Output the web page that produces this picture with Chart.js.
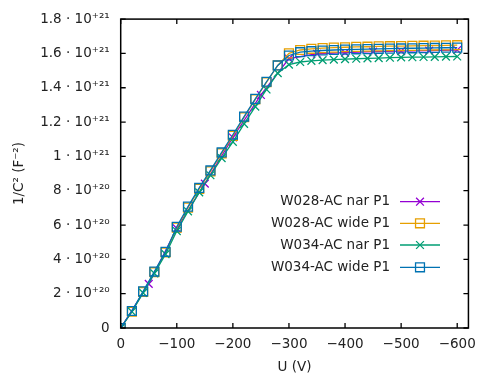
<!DOCTYPE html>
<html>
<head>
<meta charset="utf-8">
<script src="https://cdn.jsdelivr.net/npm/chart.js@4/dist/chart.umd.min.js"></script>
<style>
html,body{margin:0;padding:0;background:#fff;}
#wrap{width:484px;height:373px;position:relative;}
</style>
</head>
<body>
<div id="wrap"><canvas id="c" width="484" height="373"></canvas></div>
<script>
// ---- data ----
const voltages20 = [0,-20,-40,-60,-80,-100,-120,-140,-160,-180,-200,-220,-240,-260,-280,-300,-320,-340,-360,-380,-400,-420,-440,-460,-480,-500,-520,-540,-560,-580,-600];
const voltages50 = [0,-50,-100,-150,-200,-250,-300,-350,-400,-450,-500,-550,-600];

const w028NarP1 = [0,0.257e21,0.58e21,0.841e21,1.11e21,1.358e21,1.57e21,1.598e21,1.605e21,1.61e21,1.613e21,1.616e21,1.62e21];
const w028WideP1 = [0,0.095e21,0.21e21,0.325e21,0.44e21,0.585e21,0.702e21,0.811e21,0.913e21,1.018e21,1.12e21,1.228e21,1.332e21,1.432e21,1.53e21,1.6e21,1.62e21,1.627e21,1.631e21,1.634e21,1.636e21,1.638e21,1.639e21,1.641e21,1.642e21,1.643e21,1.644e21,1.645e21,1.646e21,1.647e21,1.648e21];
const w034NarP1 = [0,0.095e21,0.205e21,0.318e21,0.43e21,0.565e21,0.68e21,0.79e21,0.89e21,0.99e21,1.085e21,1.19e21,1.29e21,1.39e21,1.485e21,1.535e21,1.55e21,1.557e21,1.561e21,1.564e21,1.567e21,1.569e21,1.571e21,1.573e21,1.575e21,1.577e21,1.578e21,1.579e21,1.58e21,1.581e21,1.582e21];
const w034WideP1 = [0,0.099e21,0.214e21,0.329e21,0.444e21,0.59e21,0.707e21,0.816e21,0.918e21,1.023e21,1.126e21,1.232e21,1.335e21,1.435e21,1.53e21,1.588e21,1.607e21,1.613e21,1.617e21,1.62e21,1.622e21,1.624e21,1.625e21,1.627e21,1.628e21,1.629e21,1.63e21,1.631e21,1.632e21,1.633e21,1.634e21];

const seriesLabels = ['W028-AC nar P1','W028-AC wide P1','W034-AC nar P1','W034-AC wide P1'];
const xTickValues = [0,-100,-200,-300,-400,-500,-600];
const xTickLabels = ['0','\u2212100','\u2212200','\u2212300','\u2212400','\u2212500','\u2212600'];
const yTickValues = [0,2e20,4e20,6e20,8e20,1e21,1.2e21,1.4e21,1.6e21,1.8e21];
const yTickLabels = ['0','2 \u00b7 10\u207a\u00b2\u2070','4 \u00b7 10\u207a\u00b2\u2070','6 \u00b7 10\u207a\u00b2\u2070','8 \u00b7 10\u207a\u00b2\u2070','1 \u00b7 10\u207a\u00b2\u00b9','1.2 \u00b7 10\u207a\u00b2\u00b9','1.4 \u00b7 10\u207a\u00b2\u00b9','1.6 \u00b7 10\u207a\u00b2\u00b9','1.8 \u00b7 10\u207a\u00b2\u00b9'];

function pts(xs, ys){ return xs.map((x,i)=>({x:x,y:ys[i]})); }

const FONT = 'DejaVu Sans';
Chart.defaults.font.family = FONT;
Chart.defaults.font.size = 13.5;
Chart.defaults.color = '#222';

const colors = ['#9400d3','#e69f00','#009e73','#0072b2'];
const styles = ['crossRot','rect','crossRot','rect'];
const radii = [5.5,6.3,5.5,6.3];

const datasets = [
  {data: pts(voltages50, w028NarP1)},
  {data: pts(voltages20, w028WideP1)},
  {data: pts(voltages20, w034NarP1)},
  {data: pts(voltages20, w034WideP1)}
].map((d,i)=>Object.assign(d,{
  label: seriesLabels[i],
  borderColor: colors[i],
  backgroundColor: 'rgba(0,0,0,0)',
  pointBorderColor: colors[i],
  pointBackgroundColor: 'rgba(0,0,0,0)',
  pointStyle: styles[i],
  pointRadius: radii[i],
  pointBorderWidth: 1.3,
  borderWidth: 1.3,
  tension: 0,
  order: 3 - i
}));

const frame = {
  id: 'frame',
  afterDatasetsDraw(chart){
    const ctx = chart.ctx, a = chart.chartArea;
    const xs = chart.scales.x, ys = chart.scales.y;
    ctx.save();
    ctx.strokeStyle = '#000';
    ctx.lineWidth = 1.3;
    ctx.beginPath();
    const tl = 5;
    xs.ticks.forEach(t=>{
      const p = xs.getPixelForValue(t.value);
      ctx.moveTo(p, a.bottom); ctx.lineTo(p, a.bottom - tl);
      ctx.moveTo(p, a.top); ctx.lineTo(p, a.top + tl);
    });
    ys.ticks.forEach(t=>{
      const p = ys.getPixelForValue(t.value);
      ctx.moveTo(a.left, p); ctx.lineTo(a.left + tl, p);
      ctx.moveTo(a.right, p); ctx.lineTo(a.right - tl, p);
    });
    ctx.stroke();
    ctx.lineWidth = 1.5;
    ctx.strokeRect(a.left, a.top, a.right - a.left, a.bottom - a.top);
    // legend
    const textRight = 390, lx1 = 400, lx2 = 440, rowY = [201.7, 223.3, 245, 267.3];
    ctx.font = '13.5px "' + FONT + '"';
    ctx.textAlign = 'right';
    ctx.textBaseline = 'middle';
    chart.data.datasets.forEach((ds,i)=>{
      const y = rowY[i];
      ctx.fillStyle = '#222';
      ctx.fillText(ds.label, textRight, y);
      ctx.strokeStyle = ds.borderColor;
      ctx.lineWidth = ds.borderWidth;
      ctx.beginPath(); ctx.moveTo(lx1, y); ctx.lineTo(lx2, y); ctx.stroke();
      ctx.fillStyle = 'rgba(0,0,0,0)';
      ctx.lineWidth = ds.pointBorderWidth;
      Chart.helpers.drawPoint(ctx, {pointStyle: ds.pointStyle, radius: ds.pointRadius, borderWidth: ds.pointBorderWidth, rotation: 0}, (lx1+lx2)/2, y);
    });
    ctx.restore();
  }
};

new Chart(document.getElementById('c'), {
  type: 'line',
  data: {datasets: datasets},
  options: {
    responsive: false,
    animation: false,
    devicePixelRatio: 1,
    layout: {padding: {top: 16, right: 6.3, left: 0, bottom: 0}},
    plugins: {legend: {display: false}, tooltip: {enabled: false}},
    scales: {
      x: {
        type: 'linear', reverse: true, min: -620, max: 0,
        grid: {display: false, drawTicks: false},
        border: {display: false},
        afterBuildTicks: s => { s.ticks = xTickValues.map(v=>({value:v})); },
        afterFit: s => { s.height = 45; },
        ticks: {padding: 8, color: '#222', callback: (v,i) => xTickLabels[i]},
        title: {display: true, text: 'U (V)', color: '#222', padding: {top: 0, bottom: -3}}
      },
      y: {
        type: 'linear', min: 0, max: 1.8e21,
        grid: {display: false, drawTicks: false},
        border: {display: false},
        afterBuildTicks: s => { s.ticks = yTickValues.map(v=>({value:v})); },
        afterFit: s => { s.width = 120.7; },
        ticks: {padding: 11, color: '#222', callback: (v,i) => yTickLabels[i]},
        title: {display: true, text: '1/C\u00b2 (F\u207b\u00b2)', color: '#222', padding: {top: 11, bottom: 0}}
      }
    }
  },
  plugins: [frame]
});
</script>
</body>
</html>
